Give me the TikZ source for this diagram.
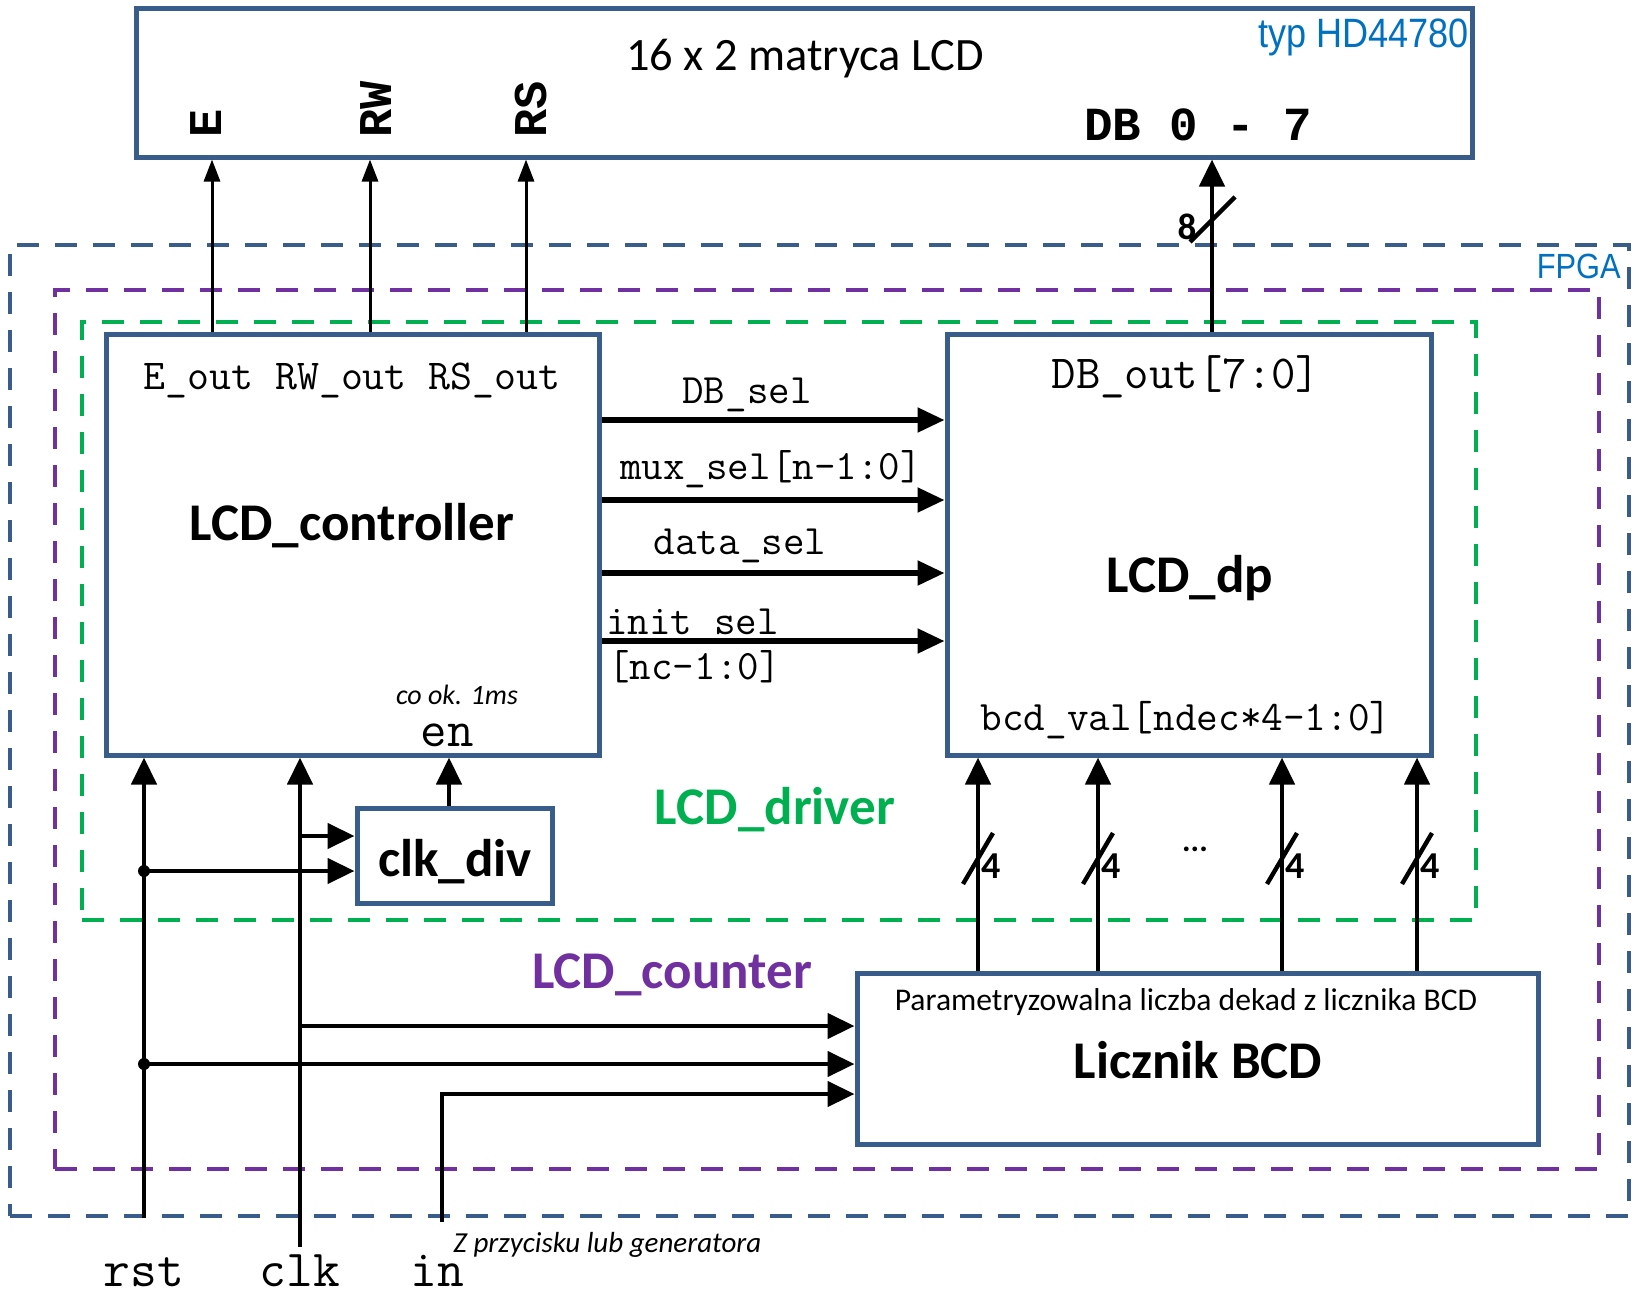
\documentclass[tikz,border=0pt]{standalone}
\usepackage{fontspec}
\setmainfont{Carlito}
\newcommand\monof{\ttfamily}
\newfontfamily\monob{Liberation Mono}
\newfontfamily\arialn[FakeStretch=0.88]{Liberation Sans}
\usetikzlibrary{arrows.meta,fit}
\definecolor{boxc}{RGB}{56,93,138}
\definecolor{txtblue}{RGB}{0,112,192}
\definecolor{drvgreen}{RGB}{0,176,80}
\definecolor{cntpurple}{RGB}{112,48,160}
\newcommand\fsz[1]{\fontsize{#1}{#1}\selectfont}
\begin{document}
\begin{tikzpicture}[x=0.5pt,y=-0.5pt,
  every node/.style={inner sep=0pt},
  box/.style={draw=boxc,line width=2.5pt,fill=white,inner sep=0pt},
  region/.style={line width=2pt,dash pattern=on 11pt off 8pt,inner sep=0pt},
  pin/.style={line width=1.5pt,-{Triangle[length=11pt,width=8pt]}},
  sig/.style={line width=2.2pt,-{Triangle[length=13.5pt,width=12.5pt]}},
  bus/.style={line width=2.6pt,-{Triangle[length=13.5pt,width=12pt]}},
  slash/.style={line width=2.2pt},
  mono/.style={font=\monof\fsz{20.9}},
  ttl/.style={font=\bfseries\fsz{26.5}},
  dlab/.style={font=\bfseries\fsz{19},anchor=west},
  pinlab/.style={rotate=90,anchor=west,font=\monob\bfseries\fsz{23.5}}
]
\useasboundingbox (0,0) rectangle (1639,1296);
\fill[white] (0,0) rectangle (1639,1296);

% regions
\node[region,draw=boxc,fit={(10,245) (1629,1216)}] (fpga) {};
\node[region,draw=cntpurple,fit={(55,290) (1599,1169)}] (cnt) {};
\node[region,draw=drvgreen,fit={(82,322) (1476,920)}] (drv) {};

% boxes
\node[box,fit={(136,8) (1472,157)}] (lcd) {};
\node[box,fit={(106,334) (599,755)}] (ctrl) {};
\node[box,fit={(947,334) (1431,755)}] (dp) {};
\node[box,fit={(357,808) (552,903)}] (clkdiv) {};
\node[box,fit={(857,973) (1538,1144)}] (bcd) {};

% coordinates
\coordinate (xE) at (212,0);
\coordinate (xRW) at (370,0);
\coordinate (xRS) at (526,0);
\coordinate (xDB) at (1212,0);
\coordinate (xEn) at (449,0);
\coordinate (yDBs) at (0,420);
\coordinate (yMux) at (0,500);
\coordinate (yData) at (0,573);
\coordinate (yInit) at (0,641);
\coordinate (rstEnd) at (144,1218);
\coordinate (clkEnd) at (300,1247);
\coordinate (inEnd) at (442,1222);
\coordinate (clkA) at (300,836);
\coordinate (rstA) at (144,871);
\coordinate (clkB) at (300,1026);
\coordinate (rstB) at (144,1064);
\coordinate (inB) at (442,1094);

% connectors to LCD
\draw[pin] (ctrl.north -| xE) -- (lcd.south -| xE);
\draw[pin] (ctrl.north -| xRW) -- (lcd.south -| xRW);
\draw[pin] (ctrl.north -| xRS) -- (lcd.south -| xRS);
\draw[sig] (dp.north -| xDB) -- (lcd.south -| xDB);
\draw[slash] (1190,242) -- (1235,197);

% controller -> dp
\draw[bus] (ctrl.east |- yDBs) -- (dp.west |- yDBs);
\draw[bus] (ctrl.east |- yMux) -- (dp.west |- yMux);
\draw[bus] (ctrl.east |- yData) -- (dp.west |- yData);
\draw[bus] (ctrl.east |- yInit) -- (dp.west |- yInit);

% rst / clk / in
\draw[sig] (rstEnd) -- (ctrl.south -| rstEnd);
\draw[sig] (clkEnd) -- (ctrl.south -| clkEnd);
\draw[sig] (clkdiv.north -| xEn) -- (ctrl.south -| xEn);
\draw[sig] (clkA) -- (clkdiv.west |- clkA);
\draw[sig] (rstA) -- (clkdiv.west |- rstA);
\draw[sig] (clkB) -- (bcd.west |- clkB);
\draw[sig] (rstB) -- (bcd.west |- rstB);
\draw[sig] (inEnd) -- (inB) -- (bcd.west |- inB);
\fill (rstA) circle[radius=3pt];
\fill (rstB) circle[radius=3pt];

% bcd -> dp
\foreach \x in {978,1098,1282,1417}{
  \coordinate (d\x) at (\x,0);
  \draw[sig] (bcd.north -| d\x) -- (dp.south -| d\x);
  \draw[slash] (\x-15,884) -- (\x+15,833);
  \node[dlab] (four\x) at (\x+3,866) {4};
}

% texts
\node[anchor=base,font=\fsz{23.2}] (tlcd) at (805,70) {16 x 2 matryca LCD};
\node[anchor=base east,font=\arialn\fsz{20.5},text=txtblue] (ttyp) at (1469,47) {typ HD44780};
\node[anchor=base east,font=\arialn\fsz{17.5},text=txtblue] (tfpga) at (1621,278) {FPGA};
\node[pinlab] (tE) at (206,138) {E};
\node[pinlab] (tRW) at (376,138) {RW};
\node[pinlab] (tRS) at (531,138) {RS};
\node[anchor=base west,font=\monob\bfseries\fsz{23.75}] (tDB) at (1084,140) {DB 0 - 7};
\node[font=\bfseries\fsz{18.5}] (t8) at (1187,227) {8};

\node[anchor=base,font=\monof\fsz{21.3}] (touts) at (352,389) {E\_out RW\_out RS\_out};
\node[anchor=base,ttl] (tctrl) at (352,540) {LCD\_controller};
\node[anchor=base,font=\itshape\fsz{14}] (tco) at (457,704) {co ok. 1ms};
\node[anchor=base,font=\monof\fsz{25.7}] (ten) at (447,746) {en};

\node[anchor=base,mono] (tdbsel) at (747,403) {DB\_sel};
\node[anchor=base,mono] (tmux) at (771,479) {mux\_sel[n-1:0]};
\node[anchor=base,mono] (tdata) at (740,554) {data\_sel};
\node[anchor=base west,mono] (tinit) at (606,634) {init\_sel};
\node[anchor=base west,mono] (tnc) at (608,679) {[nc-1:0]};

\node[anchor=base,font=\monof\fsz{23.7}] (tdbout) at (1186,388) {DB\_out[7:0]};
\node[anchor=base,ttl] (tdp) at (1190,592) {LCD\_dp};
\node[anchor=base,font=\monof\fsz{21}] (tbcdv) at (1186,730) {bcd\_val[ndec*4-1:0]};

\node[anchor=base,ttl] (tclkdiv) at (455,876) {clk\_div};
\node[anchor=base,ttl,text=drvgreen] (tdrv) at (775,824) {LCD\_driver};
\node[anchor=base,ttl,text=cntpurple] (tcnt) at (672,988) {LCD\_counter};
\node[anchor=base,font=\fsz{15.8}] (tpar) at (1186,1010) {Parametryzowalna liczba dekad z licznika BCD};
\node[anchor=base,ttl] (tbcd) at (1198,1078) {Licznik BCD};
\node[font=\bfseries\fsz{16}] (tdots) at (1195,849) {...};

\node[anchor=base,font=\monof\fsz{26}] (trst) at (144,1286) {rst};
\node[anchor=base,font=\monof\fsz{26}] (tclk) at (300,1286) {clk};
\node[anchor=base,font=\monof\fsz{26}] (tin) at (437,1286) {in};
\node[anchor=base west,font=\itshape\fsz{14.5}] (tz) at (453,1252) {Z przycisku lub generatora};
\end{tikzpicture}
\end{document}
